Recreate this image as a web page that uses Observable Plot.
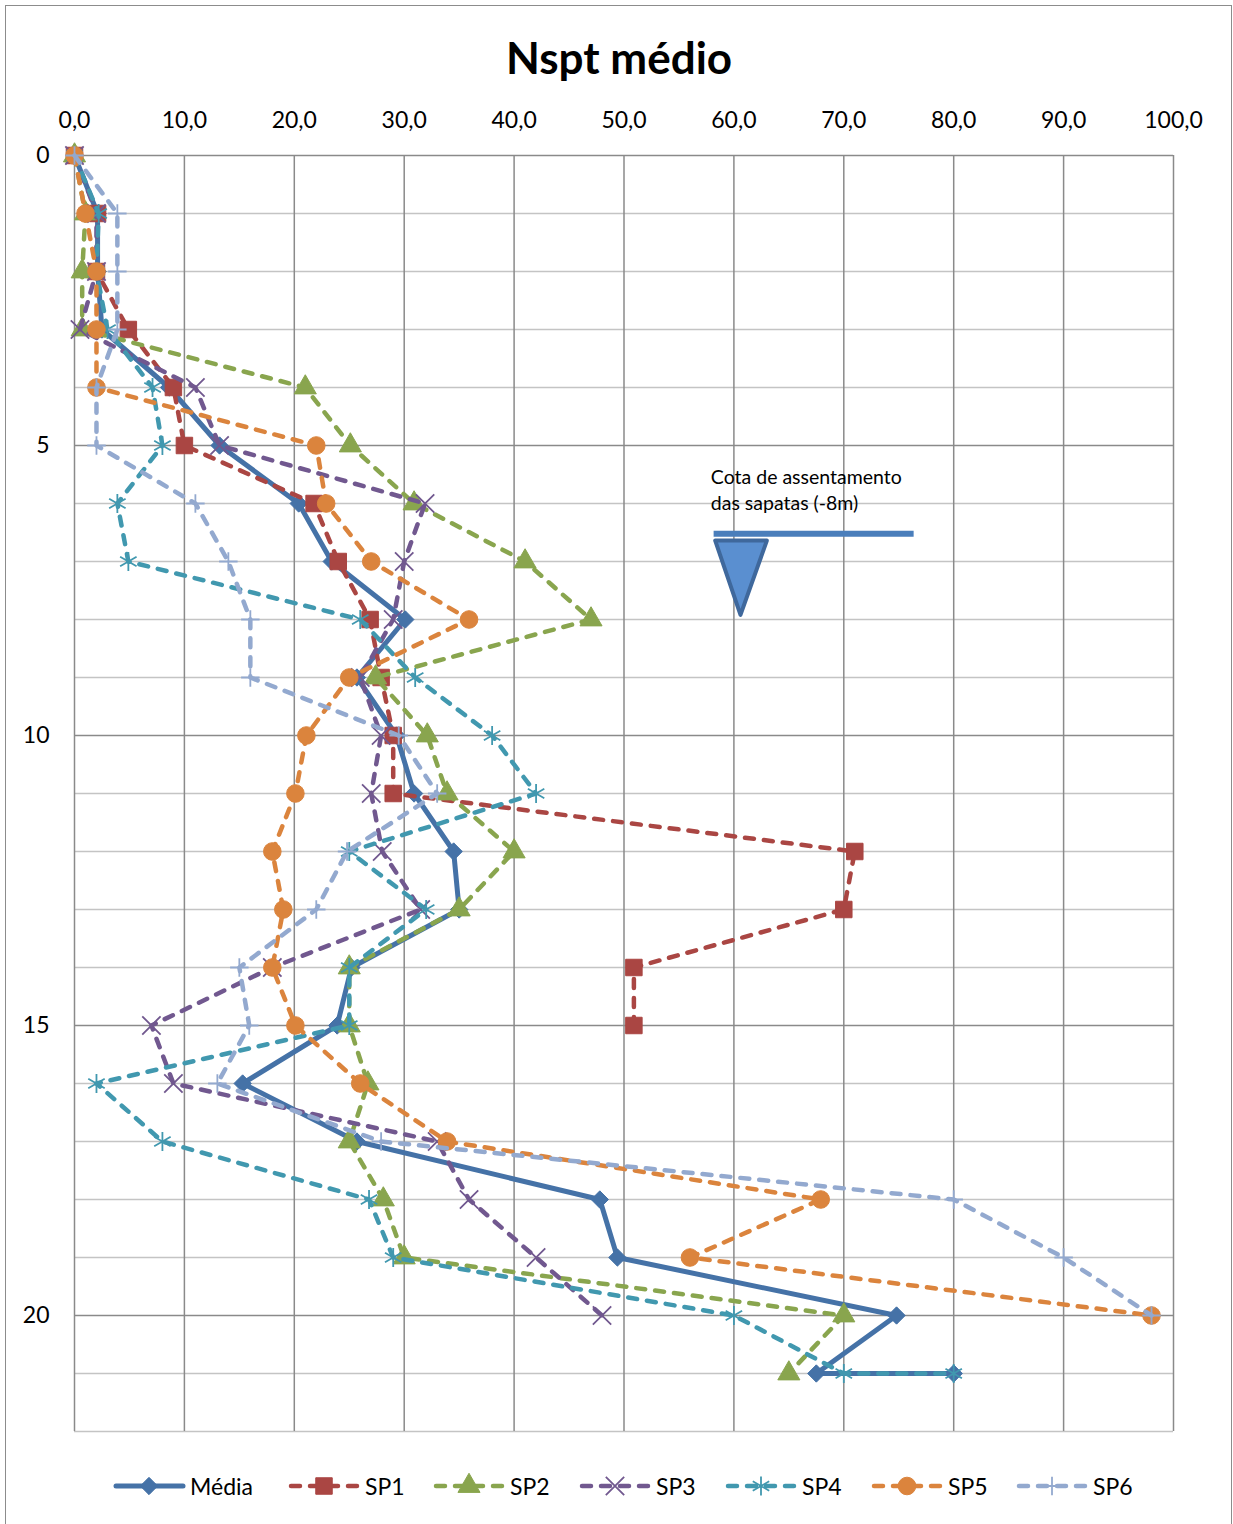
<!DOCTYPE html>
<html>
<head>
<meta charset="utf-8">
<script src="https://cdn.jsdelivr.net/npm/d3@7"></script>
<script src="https://cdn.jsdelivr.net/npm/@observablehq/plot@0.6"></script>
<style>
  body { margin: 0; background: #fff; font-family: Lato, "Open Sans", sans-serif; }
  #wrap { position: relative; width: 1233px; height: 1524px; overflow: hidden; background: #fff; }
  #border { position: absolute; left: 5px; top: 5px; width: 1227px; height: 1540px; border: 1.5px solid #8c8c8c; box-sizing: border-box; }
  #title { position: absolute; left: 0; width: 1238px; top: 34px; text-align: center; font-weight: bold; font-size: 44px; line-height: 46px; color: #000; }
  #chart { position: absolute; left: 0; top: 90px; }
  #legend { position: absolute; top: 1470px; left: 0; width: 1233px; height: 32px; }
  .item { position: absolute; top: 0; height: 32px; display: flex; align-items: center; font-size: 23px; color: #000; }
  .item svg { margin-right: 4px; }
</style>
</head>
<body>
<div id="wrap">
  <div id="border"></div>
  <div id="title">Nspt médio</div>
  <div id="chart"></div>
  <div id="legend"></div>
</div>
<script>
// ---------- data ----------
const depthsFull = [0, 1, 2, 3, 4, 5, 6, 7, 8, 9, 10, 11, 12, 13, 14, 15, 16, 17, 18, 19, 20, 21, 21];
const depthsSP1 = [0, 1, 2, 3, 4, 5, 6, 7, 8, 9, 10, 11, 12, 13, 14, 15];
const depthsSP2 = [0, 1, 2, 3, 4, 5, 6, 7, 8, 9, 10, 11, 12, 13, 14, 15, 16, 17, 18, 19, 20, 21];
const depthsTo20 = [0, 1, 2, 3, 4, 5, 6, 7, 8, 9, 10, 11, 12, 13, 14, 15, 16, 17, 18, 19, 20];

const media = [0, 2.1, 2.1, 2.5, 8.6, 13.2, 20.4, 23.4, 30.1, 25.7, 29.3, 30.9, 34.5, 35.0, 25.2, 23.9, 15.3, 25.7, 47.8, 49.4, 74.8, 67.5, 80.0];
const sp1 = [0, 2.1, 2.0, 4.9, 9.0, 10.0, 21.8, 24.0, 26.9, 27.9, 29.0, 29.0, 71.0, 70.0, 50.9, 50.9];
const sp2 = [0, 1.0, 0.7, 0.7, 21.0, 25.1, 30.9, 41.0, 47.0, 27.4, 32.1, 33.9, 40.0, 35.0, 25.0, 25.0, 26.7, 25.0, 28.1, 30.0, 70.0, 65.0];
const sp3 = [0, 2.0, 2.0, 0.5, 11.0, 13.2, 31.9, 30.0, 29.0, 26.0, 27.9, 27.0, 28.0, 31.5, 18.0, 7.0, 9.0, 33.0, 35.9, 42.0, 48.0];
const sp4 = [0, 2.2, 2.0, 3.0, 7.1, 8.0, 3.9, 4.9, 26.0, 31.0, 38.0, 42.0, 25.0, 32.0, 25.0, 25.0, 2.0, 8.0, 26.8, 29.0, 60.0, 70.0, 80.0];
const sp5 = [0, 1.0, 2.0, 2.0, 2.0, 22.0, 22.9, 27.0, 35.9, 25.0, 21.1, 20.1, 18.0, 19.0, 18.0, 20.1, 26.0, 33.9, 67.9, 56.0, 98.0];
const sp6 = [0, 3.9, 3.9, 3.9, 2.0, 2.0, 11.0, 14.0, 16.0, 16.0, 29.5, 33.0, 24.8, 22.0, 15.0, 15.9, 13.0, 27.9, 80.0, 90.0, 98.0];

const seriesNames = ["Média", "SP1", "SP2", "SP3", "SP4", "SP5", "SP6"];
const seriesColors = ["#4572A7", "#AA4643", "#89A54E", "#71588F", "#4198AF", "#DB843D", "#93A9CF"];

const xTicks = [0, 10, 20, 30, 40, 50, 60, 70, 80, 90, 100];
const yMajorTicks = [0, 5, 10, 15, 20];
const yMinorTicks = [1, 2, 3, 4, 6, 7, 8, 9, 11, 12, 13, 14, 16, 17, 18, 19, 21, 22];

// annotation (footing level marker)
const annotationText = "Cota de assentamento\ndas sapatas (-8m)";
const annotationTextPos = { x: 57.9, depth: 5.36 };
const levelLine = { x1: 58.2, x2: 76.4, depth: 6.52 };
const levelTriangle = [
  { x: 58.3, depth: 6.64 },
  { x: 63.0, depth: 6.64 },
  { x: 60.6, depth: 7.92 },
  { x: 58.3, depth: 6.64 }
];

// ---------- styling per series ----------
const dashPattern = "9,10";
const styles = [
  { depth: depthsFull, values: media, symbol: "diamond2", r: 7.8, dash: null, width: 5, filled: true },
  { depth: depthsSP1, values: sp1, symbol: "square", r: 9.3, dash: dashPattern, width: 4.5, filled: true },
  { depth: depthsSP2, values: sp2, symbol: "triangle", r: 8.2, dash: dashPattern, width: 4.5, filled: true },
  { depth: depthsTo20, values: sp3, symbol: "times", r: 8.4, dash: dashPattern, width: 4.5, filled: false },
  { depth: depthsFull, values: sp4, symbol: "asterisk", r: 9.0, dash: dashPattern, width: 4.5, filled: false },
  { depth: depthsTo20, values: sp5, symbol: "circle", r: 8.8, dash: dashPattern, width: 4.5, filled: true },
  { depth: depthsTo20, values: sp6, symbol: "plus", r: 6.0, dash: dashPattern, width: 4.5, filled: false }
];

const marks = [
  Plot.ruleY(yMinorTicks, { stroke: "#C4C4C4", strokeWidth: 1.5 }),
  Plot.ruleX(xTicks, { stroke: "#8A8A8A", strokeWidth: 1.5 }),
  Plot.ruleY(yMajorTicks, { stroke: "#8A8A8A", strokeWidth: 1.5 }),
  Plot.axisX({ anchor: "top", ticks: xTicks, tickSize: 0, tickPadding: 28, label: null,
    tickFormat: d => d.toFixed(1).replace(".", ","), fontSize: 23 }),
  Plot.axisY({ anchor: "left", ticks: yMajorTicks, tickSize: 0, tickPadding: 25, label: null,
    tickFormat: d => String(d), fontSize: 23 })
];

styles.forEach((s, k) => {
  const rows = s.values.map((v, i) => ({ x: v, depth: s.depth[i] }));
  const color = seriesColors[k];
  marks.push(Plot.line(rows, {
    x: "x", y: "depth", stroke: color, strokeWidth: s.width,
    strokeDasharray: s.dash || undefined,
    strokeLinecap: s.dash ? "round" : "butt", strokeLinejoin: "round"
  }));
  marks.push(Plot.dot(rows, {
    x: "x", y: "depth", symbol: s.symbol, r: s.r,
    fill: s.filled ? color : "none", stroke: color,
    strokeWidth: s.filled ? 1 : 1.8
  }));
});

// annotation marks
marks.push(Plot.text([annotationTextPos], {
  x: "x", y: "depth", text: () => annotationText, textAnchor: "start",
  lineAnchor: "top", fontSize: 19.5, lineHeight: 1.3, fill: "#000"
}));
marks.push(Plot.ruleY([levelLine], { y: "depth", x1: "x1", x2: "x2", stroke: "#4A7EBB", strokeWidth: 6 }));
marks.push(Plot.line(levelTriangle, { x: "x", y: "depth", fill: "#5A8FD0", stroke: "#3F689C", strokeWidth: 4, strokeLinejoin: "round" }));

const chart = Plot.plot({
  width: 1233,
  height: 1360,
  marginTop: 65,
  marginLeft: 74,
  marginRight: 60,
  marginBottom: 19,
  style: { fontFamily: "Lato, 'Open Sans', sans-serif", fontSize: "23px", background: "transparent", color: "#000" },
  x: { domain: [0, 100] },
  y: { domain: [0, 22], reverse: true },
  marks
});
document.getElementById("chart").appendChild(chart);

// ---------- legend ----------
const symbolTypes = {
  diamond2: d3.symbolDiamond2, square: d3.symbolSquare, triangle: d3.symbolTriangle,
  times: d3.symbolTimes, asterisk: d3.symbolAsterisk, circle: d3.symbolCircle, plus: d3.symbolPlus
};
const legendLeft = [113, 288, 433, 579, 725, 871, 1016];
const legend = d3.select("#legend");
seriesNames.forEach((name, k) => {
  const s = styles[k];
  const color = seriesColors[k];
  const item = legend.append("div").attr("class", "item").style("left", legendLeft[k] + "px");
  const svg = item.append("svg").attr("width", 73).attr("height", 32);
  svg.append("line").attr("x1", 3).attr("x2", 70).attr("y1", 16).attr("y2", 16)
    .attr("stroke", color).attr("stroke-width", s.width)
    .attr("stroke-linecap", "round")
    .attr("stroke-dasharray", s.dash ? "9,10" : null);
  svg.append("path")
    .attr("transform", "translate(36,16)")
    .attr("d", d3.symbol(symbolTypes[s.symbol], Math.PI * s.r * s.r)())
    .attr("fill", s.filled ? color : "none")
    .attr("stroke", color)
    .attr("stroke-width", s.filled ? 1 : 1.8);
  item.append("span").text(name);
});
</script>
</body>
</html>
